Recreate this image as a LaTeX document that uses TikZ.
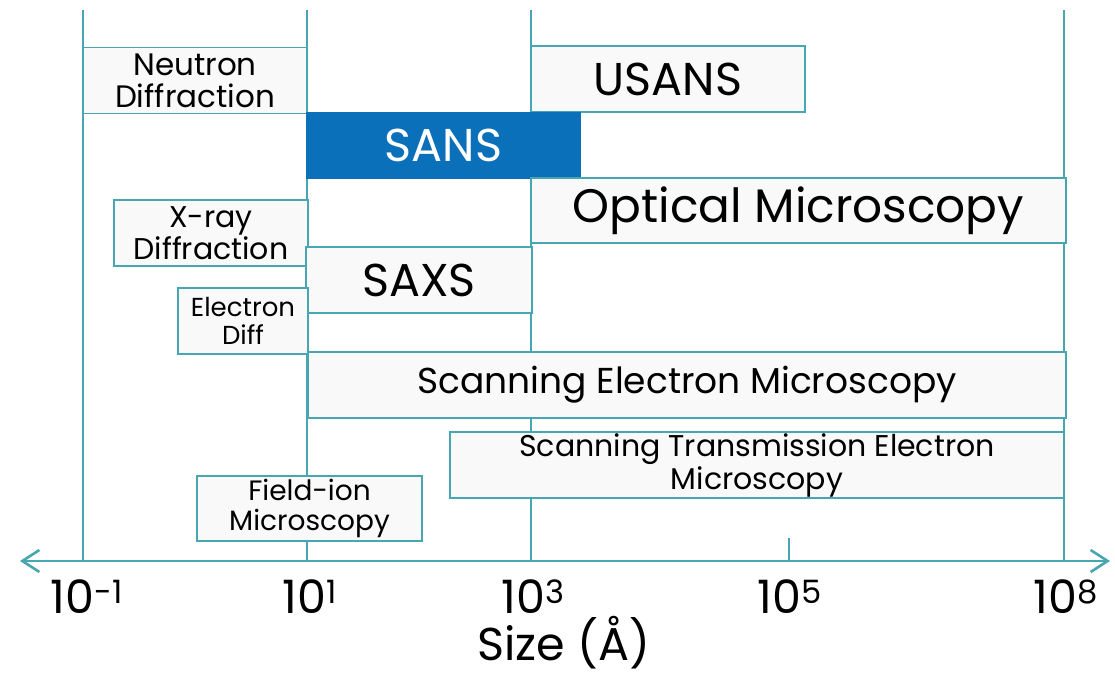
\documentclass[tikz,border=0pt]{standalone}
\usepackage{fontspec}
\setmainfont{Poppins}
\usetikzlibrary{arrows.meta}
\definecolor{teal1}{RGB}{72,166,176}
\definecolor{sansblue}{RGB}{10,112,185}
\definecolor{boxfill}{RGB}{249,249,249}
\tikzset{
  gridline/.style={draw=teal1, line width=1.8pt},
  axisline/.style={draw=teal1, line width=2.6pt, {Straight Barb[length=17pt,width=22pt,line width=2.6pt]}-{Straight Barb[length=17pt,width=22pt,line width=2.6pt]}},
  techbox/.style={draw=teal1, line width=1.8pt, fill=boxfill, inner sep=0pt, align=center, text=black},
  ticklabel/.style={font=\fontsize{46}{50}\selectfont, text=black, inner sep=0pt, anchor=base},
}
\begin{document}
\begin{tikzpicture}[x=1pt,y=-1pt]
\useasboundingbox (0,0) rectangle (1115,677);
% grid lines
\coordinate (g1t) at (83,10);   \coordinate (g1b) at (83,561);
\coordinate (g2t) at (307,10);  \coordinate (g2b) at (307,561);
\coordinate (g3t) at (531,10);  \coordinate (g3b) at (531,561);
\coordinate (g5t) at (789,538); \coordinate (g5b) at (789,561);
\coordinate (g8t) at (1064,10); \coordinate (g8b) at (1064,561);
\draw[gridline] (g1t) -- (g1b);
\draw[gridline] (g2t) -- (g2b);
\draw[gridline] (g3t) -- (g3b);
\draw[gridline] (g5t) -- (g5b);
\draw[gridline] (g8t) -- (g8b);
% axis
\coordinate (axL) at (20,561);
\coordinate (axR) at (1110,561);
\draw[axisline] (axL) -- (axR);
% boxes
\node[techbox, minimum width=224pt, minimum height=66pt, font=\fontsize{31}{32}\selectfont] (nd) at (195,80.5) {Neutron\\Diffraction};
\node[techbox, minimum width=274pt, minimum height=66pt, font=\fontsize{46}{48}\selectfont] (usans) at (668,79) {USANS};
\node[techbox, fill=sansblue, draw=sansblue, text=white, minimum width=274pt, minimum height=65pt, font=\fontsize{46}{48}\selectfont] (sans) at (443.5,145.5) {SANS};
\node[techbox, minimum width=535pt, minimum height=65pt, font=\fontsize{47}{50}\selectfont] (opt) at (798.5,210.5) {Optical Microscopy};
\node[techbox, minimum width=194pt, minimum height=66pt, font=\fontsize{30}{32}\selectfont] (xrd) at (211,233) {X-ray\\Diffraction};
\node[techbox, minimum width=226pt, minimum height=66pt, font=\fontsize{46}{48}\selectfont] (saxs) at (419,280) {SAXS};
\node[techbox, minimum width=130pt, minimum height=66pt, font=\fontsize{26}{28}\selectfont] (ed) at (243,321) {Electron\\Diff};
\node[techbox, minimum width=758pt, minimum height=66pt, font=\fontsize{36}{38}\selectfont] (sem) at (687,385) {Scanning Electron Microscopy};
\node[techbox, minimum width=614pt, minimum height=66pt, font=\fontsize{30}{33}\selectfont] (stem) at (757,465) {Scanning Transmission Electron\\Microscopy};
\node[techbox, minimum width=225pt, minimum height=65pt, font=\fontsize{28}{30}\selectfont] (fim) at (309.5,508.5) {Field-ion\\Microscopy};
% tick labels
\node[ticklabel] (l1) at (87,613) {10\textsuperscript{-1}};
\node[ticklabel] (l2) at (310,613) {10\textsuperscript{1}};
\node[ticklabel] (l3) at (533,613) {10\textsuperscript{3}};
\node[ticklabel] (l5) at (790,613) {10\textsuperscript{5}};
\node[ticklabel] (l8) at (1066,613) {10\textsuperscript{8}};
\node[ticklabel] (size) at (564,660) {Size (Å)};
\end{tikzpicture}
\end{document}
